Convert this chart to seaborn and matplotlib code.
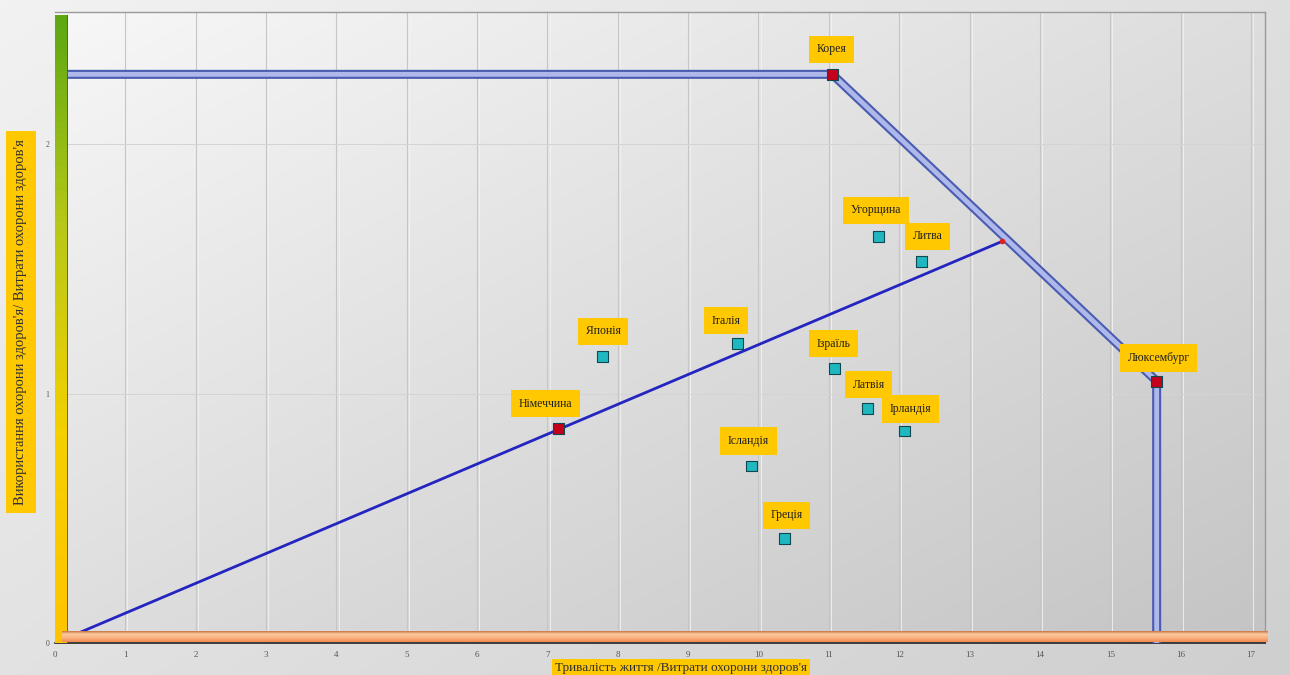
import numpy as np
import pandas as pd
import seaborn as sns
import matplotlib.pyplot as plt
from matplotlib.colors import LinearSegmentedColormap

# efficiency chart: countries, life expectancy / health spending vs use / spending
countries = ["Корея", "Люксембург", "Німеччина", "Японія", "Італія", "Угорщина",
             "Литва", "Ізраїль", "Латвія", "Ірландія", "Ісландія", "Греція"]
x_vals = [11.05, 15.66, 7.16, 7.78, 9.70, 11.71, 12.32, 11.08, 11.55, 12.08, 9.90, 10.37]
y_vals = [2.28, 1.05, 0.86, 1.15, 1.20, 1.63, 1.53, 1.10, 0.94, 0.85, 0.71, 0.42]
status = ["ефективна", "ефективна", "ефективна"] + ["неефективна"] * 9

frontier_x = [0.1, 11.05, 15.66, 15.66]
frontier_y = [2.28, 2.28, 1.05, 0.0]
ray_x = [0.0, 13.46]
ray_y = [0.0, 1.61]

x_ticks = list(range(0, 18))
y_ticks = [0, 1, 2]
x_label = "Тривалість життя /Витрати охорони здоров'я"
y_label = "Використання охорони здоров'я/ Витрати охорони здоров'я"

# label offsets in pixels (dx, dy)
offsets = [(-1, 25), (2, 23), (-13, 25), (1, 25), (-11, 23), (-3, 26),
           (6, 25), (-1, 25), (1, 24), (6, 22), (-3, 25), (2, 23)]

df = pd.DataFrame({"country": countries, "x": x_vals, "y": y_vals, "status": status})

sns.set_style("white")
plt.rcParams["font.family"] = ["Liberation Serif", "DejaVu Serif"]

W, H = 1290, 675
fig = plt.figure(figsize=(12.9, 6.75), dpi=100)
fig.patch.set_facecolor("#e4e4e4")

# figure background gradient
bg = fig.add_axes([0, 0, 1, 1], zorder=-10)
gx, gy = np.meshgrid(np.linspace(0, 1, 200), np.linspace(0, 1, 200))
bg.imshow(0.55 * gx + 0.45 * gy, cmap=LinearSegmentedColormap.from_list("b", ["#f2f2f2", "#cfcfcf"]),
          aspect="auto", extent=[0, 1, 0, 1], origin="upper")
bg.set_axis_off()

L, R, T, B = 55, 1265, 12, 643
ax = fig.add_axes([L / W, 1 - B / H, (R - L) / W, (B - T) / H])
ax.set_xlim(0, 17.2)
ax.set_ylim(0, 2.53)

# plot area gradient
ax.imshow(0.5 * gx + 0.5 * gy, cmap=LinearSegmentedColormap.from_list("p", ["#f7f7f7", "#c4c4c4"]),
          aspect="auto", extent=[0, 17.2, 0, 2.53], origin="upper", zorder=0)

for xv in x_ticks[1:]:
    ax.axvline(xv, color="#c6c6c6", lw=0.8, zorder=1)
    ax.axvline(xv + 0.03, color="#f2f2f2", lw=0.6, zorder=1)
for yv in y_ticks[1:]:
    ax.axhline(yv, color="#d4d4d4", lw=0.7, zorder=1)

# efficiency frontier
sns.lineplot(x=frontier_x, y=frontier_y, sort=False, estimator=None, ax=ax,
             color="#4a5cb0", lw=6.5, zorder=3, solid_capstyle="butt")
sns.lineplot(x=frontier_x, y=frontier_y, sort=False, estimator=None, ax=ax,
             color="#aeb8ea", lw=3.5, zorder=3, solid_capstyle="butt")
# ray through Germany
sns.lineplot(x=ray_x, y=ray_y, sort=False, estimator=None, ax=ax,
             color="#2424c0", lw=2, zorder=4)
ax.plot(ray_x[1], ray_y[1], marker="o", ms=3, color="#e02020", zorder=4)

sns.scatterplot(data=df, x="x", y="y", hue="status", ax=ax, marker="s", s=60,
                palette={"ефективна": "#c4001a", "неефективна": "#20b8c0"},
                edgecolor="#104850", linewidth=0.8, legend=False, zorder=5)

for c, xv, yv, (dx, dy) in zip(countries, x_vals, y_vals, offsets):
    ax.annotate(c, (xv, yv), xytext=(dx, dy), textcoords="offset pixels",
                ha="center", va="center", fontsize=8.5, color="#202020", zorder=6,
                bbox=dict(boxstyle="square,pad=0.65", fc="#ffc800", ec="none"))

ax.set_xticks(x_ticks)
ax.set_yticks(y_ticks)
ax.tick_params(axis="x", labelsize=6.5, colors="#555555", length=0, pad=6)
ax.tick_params(axis="y", labelsize=5.5, colors="#555555", length=0, pad=4)
ax.set_xlabel("")
ax.set_ylabel("")
for s in ["top", "right"]:
    ax.spines[s].set_color("#9a9a9a")
    ax.spines[s].set_linewidth(1.0)
ax.spines["left"].set_visible(False)
ax.spines["bottom"].set_color("#222222")
ax.spines["bottom"].set_linewidth(1.2)

# left 3D wall (green -> yellow)
lw_ax = fig.add_axes([L / W, 1 - B / H, 13 / W, (B - 15) / H], zorder=2)
lw_ax.imshow(np.linspace(0, 1, 100).reshape(-1, 1),
             cmap=LinearSegmentedColormap.from_list("g", ["#5ca812", "#b8c818", "#f4d000", "#ffc400"]),
             aspect="auto", extent=[0, 1, 0, 1])
lw_ax.axvline(1, color="#3c6a10", lw=1.2)
lw_ax.set_axis_off()

# bottom 3D floor (orange)
fl_ax = fig.add_axes([62 / W, 1 - B / H + 1 / H, (1268 - 62) / W, 11 / H], zorder=2)
fl_ax.imshow(np.linspace(0, 1, 50).reshape(-1, 1),
             cmap=LinearSegmentedColormap.from_list("o", ["#b85a20", "#fcc8a0", "#fbb080", "#f08a50"]),
             aspect="auto", extent=[0, 1, 0, 1])
fl_ax.set_axis_off()

# axis titles in yellow boxes
fig.text(21 / W, 1 - 322 / H, y_label, rotation=90, ha="center", va="center",
         fontsize=10.5, color="#303030",
         bbox=dict(boxstyle="square,pad=0.55", fc="#ffc800", ec="none"))
fig.text(681 / W, 1 - 668 / H, x_label, ha="center", va="center",
         fontsize=9.5, color="#303030",
         bbox=dict(boxstyle="square,pad=0.25", fc="#ffc800", ec="none"))

fig.savefig("out.png", dpi=100)
